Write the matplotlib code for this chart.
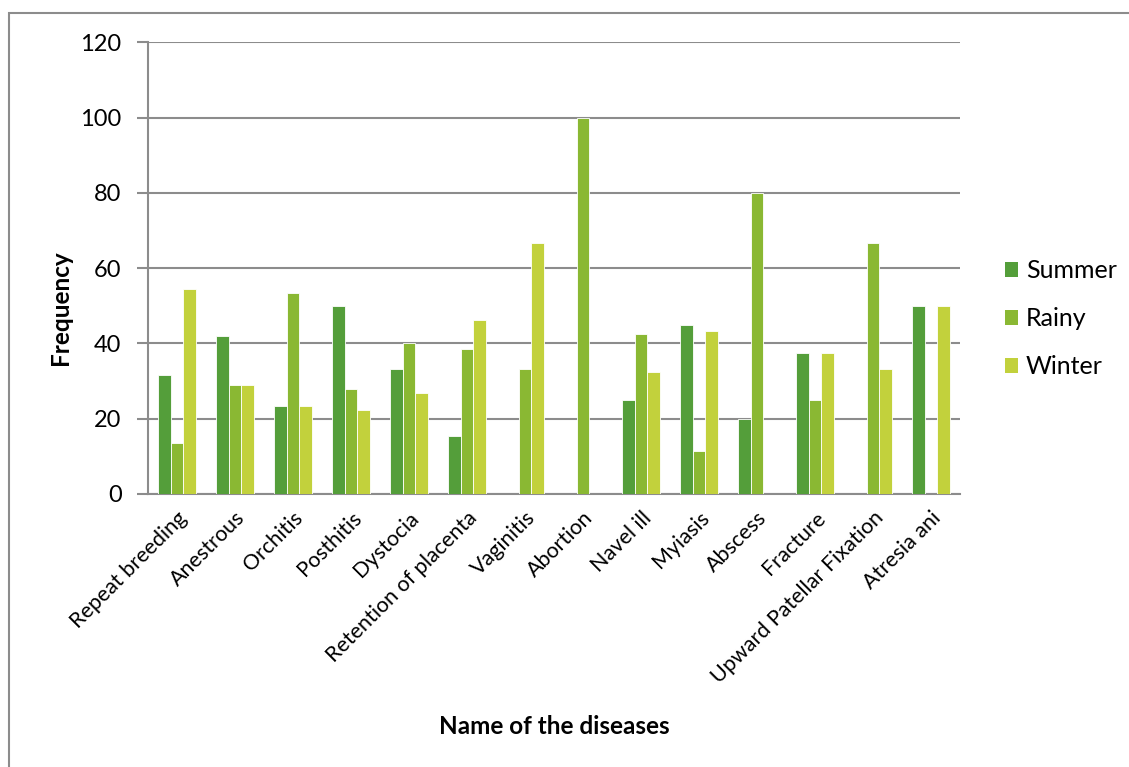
import numpy as np
import matplotlib.pyplot as plt
from matplotlib.patches import Rectangle, Patch

plt.rcParams['font.family'] = ['Lato', 'DejaVu Sans']

diseases = ["Repeat breeding", "Anestrous", "Orchitis", "Posthitis", "Dystocia",
            "Retention of placenta", "Vaginitis", "Abortion", "Navel ill", "Myiasis",
            "Abscess", "Fracture", "Upward Patellar Fixation", "Atresia ani"]
summer = [31.6, 42.1, 23.3, 50.0, 33.3, 15.4, 0, 0, 25.0, 45.0, 20.0, 37.5, 0, 50.0]
rainy = [13.6, 28.9, 53.3, 27.8, 40.0, 38.5, 33.3, 100.0, 42.5, 11.4, 80.0, 25.0, 66.7, 0]
winter = [54.5, 28.9, 23.3, 22.2, 26.7, 46.2, 66.7, 0, 32.5, 43.2, 0, 37.5, 33.3, 50.0]
yticks = [0, 20, 40, 60, 80, 100, 120]

series = [("Summer", summer, "#549E3A"),
          ("Rainy", rainy, "#8AB833"),
          ("Winter", winter, "#C2D13C")]

W, H = 1129, 767
fig = plt.figure(figsize=(W / 100, H / 100), dpi=100)
ax = fig.add_axes([148 / W, 1 - 494 / H, (960 - 148) / W, (494 - 42.3) / H])

x = np.arange(len(diseases))
bw = 1 / 4.5
for i, (name, vals, col) in enumerate(series):
    ax.bar(x + (i - 1) * bw, vals, width=bw, color=col, edgecolor="white",
           linewidth=0.6, zorder=3, label=name)

ax.set_xlim(-0.5, len(diseases) - 0.5)
ax.set_ylim(0, 120)
ax.set_yticks(yticks)
ax.yaxis.grid(True, color="#8c8c8c", linewidth=1.5, zorder=0)
ax.tick_params(axis="y", labelsize=17, length=8, width=1.5, color="#8c8c8c", pad=11)
ax.tick_params(axis="x", length=0, labelsize=15.5, pad=10)
ax.set_xticks(x)
ax.set_xticklabels(diseases, rotation=45, ha="right", rotation_mode="anchor")
for s in ["top", "right"]:
    ax.spines[s].set_visible(False)
for s in ["left", "bottom"]:
    ax.spines[s].set_color("#8c8c8c")
    ax.spines[s].set_linewidth(1.5)

fig.text(554 / W, 1 - 726 / H, "Name of the diseases", ha="center", va="center",
         fontsize=17.5, fontweight="bold")
fig.text(60 / W, 1 - 308 / H, "Frequency", ha="center", va="center",
         rotation=90, fontsize=17.5, fontweight="bold")

handles = [Patch(facecolor=c, edgecolor="none") for _, _, c in series]
fig.legend(handles, [n for n, _, _ in series], loc="center left",
           bbox_to_anchor=(982 / W, 1 - 319 / H), frameon=False, fontsize=18,
           handlelength=0.55, handleheight=0.55, handletextpad=0.3, labelspacing=1.0)

fig.add_artist(Rectangle((9 / W, -0.1), 1.2, 1 - 13 / H + 0.1, transform=fig.transFigure,
                         fill=False, edgecolor="#8c8c8c", linewidth=1.5))

fig.savefig("out.png", dpi=100)
